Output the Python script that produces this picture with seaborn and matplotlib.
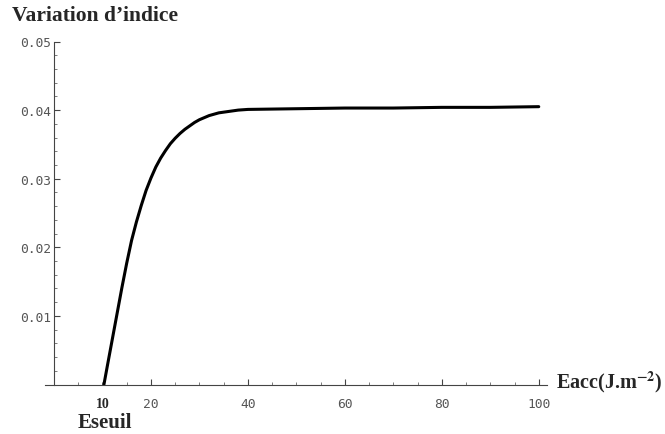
import numpy as np
import pandas as pd
import seaborn as sns
import matplotlib.pyplot as plt
from matplotlib.ticker import MultipleLocator, FixedLocator

# values
energy = [10.3, 11, 12, 13, 14, 15, 16, 17, 18, 19, 20, 21, 22, 23, 24, 25,
          26, 27, 28, 29, 30, 32, 34, 36, 38, 40, 50, 60, 70, 80, 90, 100]
variation = [0.0, 0.0027, 0.0065, 0.0103, 0.0141, 0.0177, 0.0210, 0.0237,
             0.0261, 0.0283, 0.0301, 0.0317, 0.0330, 0.0341, 0.0351, 0.0359,
             0.0366, 0.0372, 0.0377, 0.0382, 0.0386, 0.0392, 0.0396, 0.0398,
             0.0400, 0.0401, 0.0402, 0.0403, 0.0403, 0.0404, 0.0404, 0.0405]
x_ticks = [20, 40, 60, 80, 100]
y_ticks = [0.01, 0.02, 0.03, 0.04, 0.05]
threshold = 10

sns.set_style("white")
plt.rcParams["mathtext.fontset"] = "stix"

fig = plt.figure(figsize=(6.65, 4.35), dpi=100)
ax = fig.add_axes([44.8 / 665, 49.5 / 435, 502.2 / 665, 343 / 435])

df = pd.DataFrame({"E": energy, "dn": variation})
sns.lineplot(data=df, x="E", y="dn", ax=ax, color="black", linewidth=2.2)

ax.set_xlim(-1.9, 101.7)
ax.set_ylim(0, 0.05)
ax.set_xlabel("")
ax.set_ylabel("")

for side in ["top", "right"]:
    ax.spines[side].set_visible(False)
ax.spines["left"].set_position(("data", 0))
ax.spines["left"].set_bounds(0, 0.05)
for side in ["left", "bottom"]:
    ax.spines[side].set_color("#444444")
    ax.spines[side].set_linewidth(0.8)

ax.xaxis.set_major_locator(FixedLocator(x_ticks))
ax.xaxis.set_minor_locator(MultipleLocator(5))
ax.yaxis.set_major_locator(FixedLocator(y_ticks))
ax.yaxis.set_minor_locator(MultipleLocator(0.002))
ax.set_xticklabels([str(t) for t in x_ticks])
ax.set_yticklabels([f"{t:.2f}" for t in y_ticks])

mono = "DejaVu Sans Mono"
ax.tick_params(axis="both", which="both", bottom=True, left=True,
               top=False, right=False)
ax.tick_params(axis="both", which="major", direction="in", length=4,
               width=0.8, color="#444444", labelcolor="#555555", labelsize=9.3)
ax.tick_params(axis="both", which="minor", direction="in", length=2.5,
               width=0.6, color="#666666")
ax.tick_params(axis="x", which="major", pad=9)
ax.tick_params(axis="y", which="major", pad=2)
for lab in ax.get_xticklabels() + ax.get_yticklabels():
    lab.set_fontfamily(mono)

serif = "Liberation Serif"
fig.text(12 / 665, 1 - 16 / 435, "Variation d\u2019indice", fontsize=15.5,
         fontweight="bold", family=serif, va="center", ha="left")
ax.text(threshold, -0.0018, "10", fontsize=10, fontweight="bold", family=serif,
        ha="center", va="top")
ax.text(threshold + 0.5, -0.0055, "Eseuil", fontsize=15, fontweight="bold",
        family=serif, ha="center", va="center")
fig.text(556 / 665, 1 - 382 / 435, r"Eacc(J.m$^{\mathbf{-2}}$)", fontsize=14.5,
         fontweight="bold", family=serif, ha="left", va="center")

fig.savefig("out.png", dpi=100)
